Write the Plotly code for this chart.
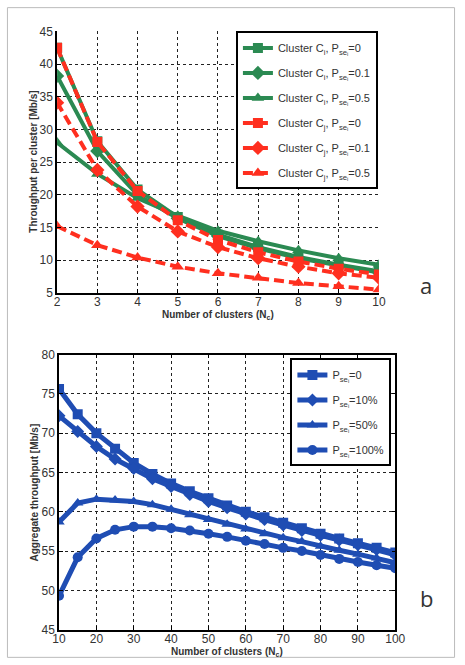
import plotly.graph_objects as go

# ---------- data: panel a ----------
clusters_a = [2, 3, 4, 5, 6, 7, 8, 9, 10]
ci_p0 = [42.5, 28.2, 20.8, 16.6, 13.9, 12.0, 10.5, 9.3, 8.3]
ci_p01 = [38.2, 26.7, 20.0, 16.4, 13.7, 11.8, 10.3, 9.2, 8.1]
ci_p05 = [28.0, 23.2, 19.5, 16.8, 14.5, 12.9, 11.5, 10.3, 9.3]
cj_p0 = [42.5, 28.1, 20.6, 16.1, 13.1, 11.2, 9.8, 8.7, 7.8]
cj_p01 = [34.1, 23.8, 18.2, 14.4, 12.0, 10.3, 9.0, 8.0, 7.3]
cj_p05 = [15.2, 12.3, 10.4, 9.0, 8.0, 7.3, 6.5, 6.0, 5.5]

names_a = [
    "Cluster C<sub>i</sub>, P<sub>se<sub>i</sub></sub>=0",
    "Cluster C<sub>i</sub>, P<sub>se<sub>i</sub></sub>=0.1",
    "Cluster C<sub>i</sub>, P<sub>se<sub>i</sub></sub>=0.5",
    "Cluster C<sub>j</sub>, P<sub>se<sub>i</sub></sub>=0",
    "Cluster C<sub>j</sub>, P<sub>se<sub>i</sub></sub>=0.1",
    "Cluster C<sub>j</sub>, P<sub>se<sub>i</sub></sub>=0.5",
]

# ---------- data: panel b ----------
clusters_b = [10, 15, 20, 25, 30, 35, 40, 45, 50, 55, 60, 65, 70, 75, 80, 85, 90, 95, 100]
agg_p0 = [75.6, 72.4, 70.0, 68.0, 66.2, 64.8, 63.6, 62.6, 61.7, 60.8, 60.0, 59.3, 58.6, 57.9, 57.2, 56.6, 56.0, 55.4, 54.8]
agg_p10 = [72.2, 70.2, 68.3, 66.7, 65.5, 64.2, 63.2, 62.2, 61.3, 60.5, 59.7, 59.0, 58.3, 57.6, 57.0, 56.4, 55.8, 55.2, 54.5]
agg_p50 = [58.7, 61.1, 61.6, 61.5, 61.3, 60.9, 60.3, 59.6, 59.0, 58.4, 57.8, 57.2, 56.7, 56.2, 55.6, 55.1, 54.6, 54.1, 53.5]
agg_p100 = [49.3, 54.2, 56.6, 57.7, 58.1, 58.1, 57.9, 57.6, 57.2, 56.8, 56.3, 55.9, 55.4, 55.0, 54.5, 54.0, 53.6, 53.2, 52.8]

names_b = [
    "P<sub>se<sub>i</sub></sub>=0",
    "P<sub>se<sub>i</sub></sub>=10%",
    "P<sub>se<sub>i</sub></sub>=50%",
    "P<sub>se<sub>i</sub></sub>=100%",
]

x_title = "Number of clusters (N<sub>c</sub>)"
y_title_a = "Throughput per cluster [Mb/s]"
y_title_b = "Aggregate throughput [Mb/s]"

GREEN = "#2b8a52"
RED = "#ff2f1f"
BLUE = "#1f4db3"

W, H = 465, 665

def px_x(p):
    return p / W

def px_y(p):
    return 1 - p / H

fig = go.Figure()

series_a = [ci_p0, ci_p01, ci_p05, cj_p0, cj_p01, cj_p05]
symbols_a = ["square", "diamond", "triangle-up"] * 2
for k, (vals, nm, sym) in enumerate(zip(series_a, names_a, symbols_a)):
    green = k < 3
    fig.add_trace(go.Scatter(
        x=clusters_a, y=vals, name=nm, mode="lines+markers",
        xaxis="x", yaxis="y", legend="legend", legendgroup=f"a{k}",
        line=dict(color=GREEN if green else RED, width=4,
                  dash="solid" if green else "10px,5px"),
        marker=dict(symbol=sym, size=11 if sym != "square" else 10,
                    color=GREEN if green else RED),
    ))

series_b = [agg_p0, agg_p10, agg_p50, agg_p100]
symbols_b = ["square", "diamond", "triangle-up", "circle"]
for k, (vals, nm, sym) in enumerate(zip(series_b, names_b, symbols_b)):
    fig.add_trace(go.Scatter(
        x=clusters_b, y=vals, name=nm, mode="lines+markers",
        xaxis="x2", yaxis="y2", legend="legend2", legendgroup=f"b{k}",
        line=dict(color=BLUE, width=5),
        marker=dict(symbol=sym, size=10, color=BLUE,
                    line=dict(color=BLUE, width=0)),
    ))

FAM = "Arial, Liberation Sans, sans-serif"
tickfont = dict(family=FAM, size=12, color="#333")
titlefont = dict(family=FAM, size=10, color="#333", weight="bold")
gridcommon = dict(showgrid=True, gridcolor="#222", griddash="dot", gridwidth=1,
                  zeroline=False, showline=True, linecolor="black", linewidth=1.5,
                  ticks="inside", ticklen=4, tickcolor="black", tickfont=tickfont)

legend_common = dict(xanchor="right", yanchor="top", bgcolor="white",
                     bordercolor="black", borderwidth=2,
                     font=dict(family=FAM, size=11, color="#333"),
                     tracegroupgap=6, itemwidth=30)

def ann(text, x, y, font, angle=0):
    return dict(text=text, x=px_x(x), y=px_y(y), xref="paper", yref="paper",
                xanchor="center", yanchor="middle", showarrow=False,
                textangle=angle, font=font)

label_font = dict(family="Open Sans, sans-serif", size=22, color="#333")

fig.update_layout(
    width=W, height=H,
    margin=dict(l=0, r=0, t=0, b=0),
    paper_bgcolor="white", plot_bgcolor="white",
    xaxis=dict(domain=[px_x(52), px_x(386)], range=[2, 10], dtick=1,
               anchor="y", mirror=False, ticklabelstandoff=-3, **gridcommon),
    yaxis=dict(domain=[px_y(292), px_y(25)], range=[5, 45], dtick=5,
               anchor="x", mirror=False, **gridcommon),
    xaxis2=dict(domain=[px_x(54), px_x(403)], range=[10, 100], dtick=10,
                anchor="y2", mirror="ticks", ticklabelstandoff=-3, **gridcommon),
    yaxis2=dict(domain=[px_y(636), px_y(355)], range=[45, 80], dtick=5,
                anchor="x2", mirror="ticks", **gridcommon),
    legend=dict(x=px_x(385), y=px_y(25), **legend_common),
    legend2=dict(x=px_x(399), y=px_y(359), **legend_common),
    annotations=[
        ann(x_title, 219, 315, titlefont),
        ann(x_title, 228, 659, titlefont),
        ann(y_title_a, 28, 158, titlefont, -90),
        ann(y_title_b, 29, 496, titlefont, -90),
        ann("a", 435, 284, label_font),
        ann("b", 435, 604, label_font),
    ],
    shapes=[
        dict(type="rect", xref="paper", yref="paper", x0=0.001, y0=0.001, x1=0.999, y1=0.999,
             line=dict(color="#bbbbbb", width=1)),
    ],
)

fig.write_html("out.html")
